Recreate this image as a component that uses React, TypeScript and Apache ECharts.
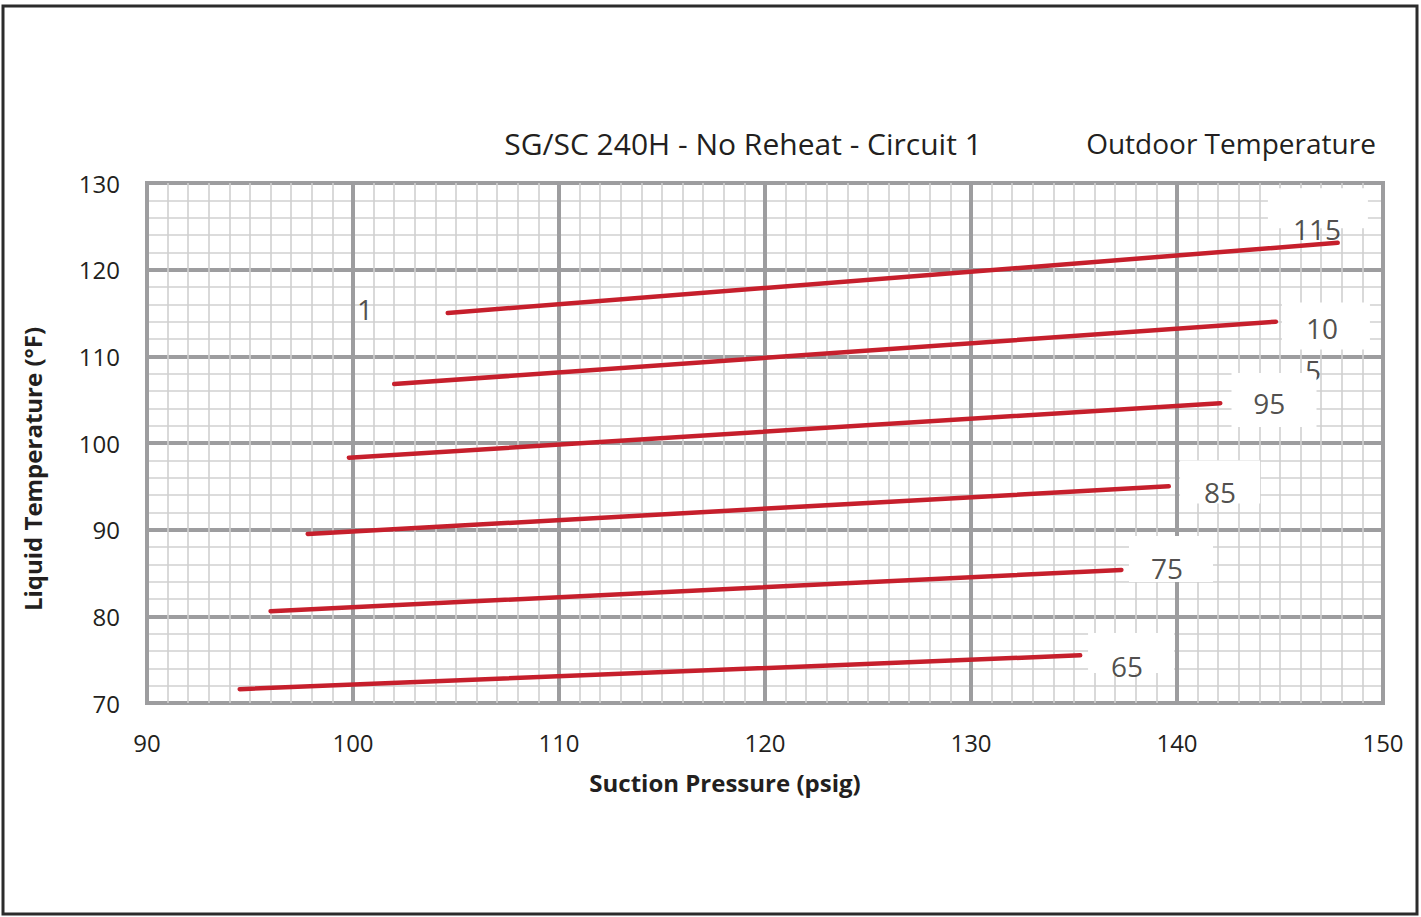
import React, { useEffect, useRef } from "react";
import * as echarts from "echarts";

// Outdoor temperature curves (°F)
const curveNames = ["115", "105", "95", "85", "75", "65"];
// Suction pressure (psig) at start / end of each curve
const startPressure = [104.6, 102.0, 99.8, 97.8, 96.0, 94.5];
const endPressure = [147.8, 144.8, 142.1, 139.6, 137.3, 135.3];
// Liquid temperature (°F) at start / end of each curve
const startLiquid = [115.0, 106.8, 98.3, 89.5, 80.6, 71.6];
const endLiquid = [123.1, 114.0, 104.6, 95.0, 85.35, 75.5];

// Curve labels (as printed, including the broken "10" / "5")
const labelTexts = ["115", "10", "95", "85", "75", "65", "1"];
const labelPressure = [146.8, 147.04, 144.48, 142.09, 139.51, 137.57, 100.58];
const labelLiquid = [124.69, 113.27, 104.6, 94.35, 85.58, 74.27, 115.46];
const hiddenLabelText = ["5"];
const hiddenLabelPressure = [146.6];
const hiddenLabelLiquid = [108.4];

// White label boxes
const boxPressure = [146.84, 147.23, 144.71, 142.09, 139.71, 137.77];
const boxLiquid = [127.1, 113.5, 104.96, 95.5, 86.62, 75.77];
const boxSizes = [
  [100, 40],
  [88, 47],
  [85, 54],
  [80, 43],
  [84, 46],
  [86, 40],
];

const xMin = 90, xMax = 150, yMin = 70, yMax = 130;

const FONT = "'Open Sans', 'Noto Sans', sans-serif";
const TEXT = "#231f20";

export default function App() {
  const ref = useRef<HTMLDivElement>(null);
  useEffect(() => {
    document.body.style.margin = "0";
    if (!ref.current) return;
    const chart = echarts.init(ref.current, null, { renderer: "svg" });

    const lineSeries = curveNames.map((n, i) => ({
      type: "line",
      name: n,
      data: [
        [startPressure[i], startLiquid[i]],
        [endPressure[i], endLiquid[i]],
      ],
      showSymbol: false,
      symbol: "none",
      lineStyle: { color: "#c61f2c", width: 4.5, cap: "round" },
      z: 6,
    }));

    const option: any = {
      animation: false,
      backgroundColor: "#ffffff",
      textStyle: { fontFamily: FONT },
      grid: {
        left: 147,
        top: 183,
        width: 1236,
        height: 520,
        show: true,
        borderColor: "#9d9d9f",
        borderWidth: 4,
        backgroundColor: "transparent",
      },
      xAxis: {
        type: "value",
        min: xMin,
        max: xMax,
        interval: 10,
        axisLine: { show: false },
        axisTick: { show: false },
        axisLabel: { fontSize: 24, color: TEXT, margin: 27, fontFamily: FONT },
        splitLine: { show: true, lineStyle: { color: "#9d9d9f", width: 4 } },
        minorTick: { show: false, splitNumber: 10 },
        minorSplitLine: { show: true, lineStyle: { color: "#d0d0d0", width: 1.6 } },
      },
      yAxis: {
        type: "value",
        min: yMin,
        max: yMax,
        interval: 10,
        axisLine: { show: false },
        axisTick: { show: false },
        axisLabel: { fontSize: 24, color: TEXT, margin: 27, fontFamily: FONT },
        splitLine: { show: true, lineStyle: { color: "#9d9d9f", width: 4 } },
        minorTick: { show: false, splitNumber: 5 },
        minorSplitLine: { show: true, lineStyle: { color: "#d0d0d0", width: 1.6 } },
      },
      graphic: [
        {
          type: "rect",
          shape: { x: 3, y: 6, width: 1414, height: 908 },
          style: { fill: "none", stroke: "#2b2b2b", lineWidth: 3 },
          z: 100,
        },
        {
          type: "text",
          x: 743,
          y: 143,
          style: {
            text: "SG/SC 240H - No Reheat - Circuit 1",
            fontSize: 30,
            fontFamily: FONT,
            fill: TEXT,
            textAlign: "center",
            textVerticalAlign: "middle",
          },
        },
        {
          type: "text",
          x: 1231,
          y: 143,
          style: {
            text: "Outdoor Temperature",
            fontSize: 28,
            fontFamily: FONT,
            fill: TEXT,
            textAlign: "center",
            textVerticalAlign: "middle",
          },
        },
        {
          type: "text",
          x: 725,
          y: 782,
          style: {
            text: "Suction Pressure (psig)",
            fontSize: 24,
            fontWeight: "bold",
            fontFamily: FONT,
            fill: TEXT,
            textAlign: "center",
            textVerticalAlign: "middle",
          },
        },
        {
          type: "text",
          x: 32,
          y: 469,
          rotation: Math.PI / 2,
          style: {
            text: "Liquid Temperature (°F)",
            fontSize: 24,
            fontWeight: "bold",
            fontFamily: FONT,
            fill: TEXT,
            textAlign: "center",
            textVerticalAlign: "middle",
          },
        },
      ],
      series: [
        {
          type: "scatter",
          data: hiddenLabelText.map((t, i) => [hiddenLabelPressure[i], hiddenLabelLiquid[i], t]),
          symbolSize: 0,
          z: 3,
          label: {
            show: true,
            position: "inside",
            formatter: (p: any) => p.value[2],
            fontSize: 28,
            color: TEXT,
            fontFamily: FONT,
          },
        },
        {
          type: "scatter",
          data: boxPressure.map((x, i) => ({ value: [x, boxLiquid[i]], symbolSize: boxSizes[i] })),
          symbol: "rect",
          itemStyle: { color: "#ffffff", opacity: 1 },
          z: 4,
        },
        ...lineSeries,
        {
          type: "scatter",
          data: labelTexts.map((t, i) => [labelPressure[i], labelLiquid[i], t]),
          symbolSize: 0,
          z: 8,
          label: {
            show: true,
            position: "inside",
            formatter: (p: any) => p.value[2],
            fontSize: 28,
            color: TEXT,
            fontFamily: FONT,
          },
        },
      ],
    };
    chart.setOption(option);
    return () => chart.dispose();
  }, []);
  return <div ref={ref} style={{ width: 1421, height: 917 }} />;
}
